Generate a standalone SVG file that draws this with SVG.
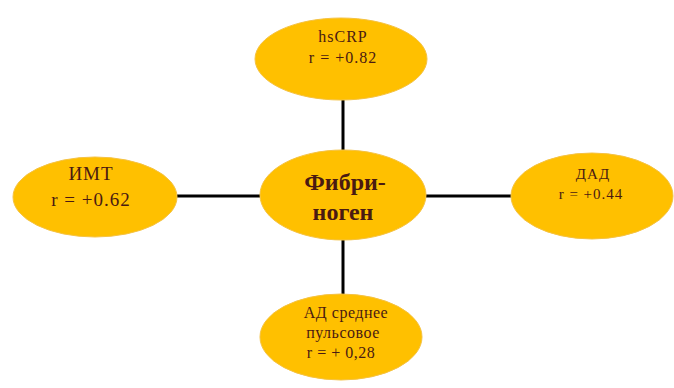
<svg xmlns="http://www.w3.org/2000/svg" width="674" height="388" viewBox="0 0 674 388">
<style>
.n{fill:#FFC000;stroke:#F5C242;stroke-width:1}
.t{font-family:"Liberation Serif","DejaVu Serif",serif;fill:#4a1a12;text-anchor:middle;dominant-baseline:central}
.c{stroke:#000;stroke-width:3;fill:none}
</style>
<rect width="674" height="388" fill="#fff"/>
<g id="connectors">
<line class="c" x1="343" y1="100" x2="343" y2="150"/>
<line class="c" x1="343" y1="240" x2="343" y2="295"/>
<line class="c" x1="177" y1="196" x2="260" y2="196"/>
<line class="c" x1="426" y1="196" x2="512" y2="196"/>
</g>
<g id="center">
<ellipse class="n" cx="343" cy="195" rx="83" ry="45"/>
<text class="t" x="345" y="182" font-size="24" font-weight="bold">Фибри-</text>
<text class="t" x="343" y="212" font-size="24" font-weight="bold">ноген</text>
</g>
<g id="hscrp">
<ellipse class="n" cx="341" cy="59" rx="86" ry="41"/>
<text class="t" x="343" y="36" font-size="16" letter-spacing="1">hsCRP</text>
<text class="t" x="343" y="57" font-size="16" letter-spacing="1">r = +0.82</text>
</g>
<g id="imt">
<ellipse class="n" cx="95" cy="197" rx="82" ry="40"/>
<text class="t" x="91" y="173" font-size="19" letter-spacing="1">ИМТ</text>
<text class="t" x="91" y="199" font-size="19" letter-spacing="1">r = +0.62</text>
</g>
<g id="dad">
<ellipse class="n" cx="592" cy="196" rx="81" ry="43"/>
<text class="t" x="593" y="174" font-size="15" letter-spacing="1">ДАД</text>
<text class="t" x="591" y="194" font-size="15" letter-spacing="1">r = +0.44</text>
</g>
<g id="ad">
<ellipse class="n" cx="341" cy="337" rx="81" ry="43"/>
<text class="t" x="346" y="312" font-size="16" letter-spacing="0.5">АД среднее</text>
<text class="t" x="343" y="332" font-size="16" letter-spacing="0.5">пульсовое</text>
<text class="t" x="341" y="352" font-size="16" letter-spacing="0.5">r = + 0,28</text>
</g>
</svg>
